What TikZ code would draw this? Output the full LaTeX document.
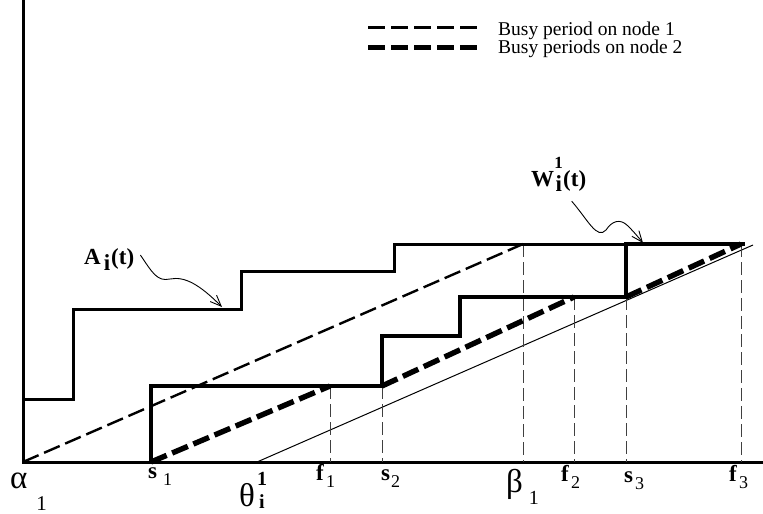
\documentclass[tikz,border=0pt]{standalone}
\usepackage{fontspec}
\setmainfont{Liberation Serif}
\usetikzlibrary{arrows.meta,positioning}
\newcommand{\tlab}[3][2pt]{\textbf{#2}\hspace{#1}\raisebox{-7pt}{\fontsize{18}{18}\selectfont #3}}
\tikzset{
  axisLine/.style={line width=3pt},
  arrCurve/.style={line width=3pt, line join=miter},
  wCurve/.style={line width=4.8pt, line join=miter},
  busyOne/.style={line width=2.4pt, dash pattern=on 17pt off 6pt},
  busyTwo/.style={line width=5.4pt, dash pattern=on 17pt off 6pt},
  dropLine/.style={line width=0.9pt, draw=black!75, dash pattern=on 13pt off 5pt},
  servLine/.style={line width=1pt},
  tickLabel/.style={font=\fontsize{23}{23}\selectfont, inner sep=0pt, anchor=base west},
  greekLabel/.style={font=\fontsize{33}{33}\selectfont, inner sep=0pt, anchor=base west},
  curveLabel/.style={font=\fontsize{23}{23}\selectfont\bfseries, inner sep=0pt, anchor=base west},
  legendText/.style={font=\fontsize{19.5}{19.5}\selectfont, inner sep=0pt, anchor=base west},
  noteArrow/.style={-{Straight Barb[length=11pt,width=9pt]}, line width=0.9pt}
}

\begin{document}
\begin{tikzpicture}[x=1pt,y=-1pt]
  \useasboundingbox (0,0) rectangle (763,514);
  \draw[axisLine] (23,0) -- (23,462) -- (763,462);
  \draw[servLine] (257,462) -- (753,245);
  \draw[dropLine] (330,386) -- (330,462);
  \draw[dropLine] (382,386) -- (382,462);
  \draw[dropLine] (523,244) -- (523,462);
  \draw[dropLine] (574,297) -- (574,462);
  \draw[dropLine] (626,297) -- (626,462);
  \draw[dropLine] (741,244) -- (741,462);
  \draw[busyOne] (23,462) -- (523,244);
  \draw[busyTwo] (151,462) -- (330,386);
  \draw[busyTwo] (382,386) -- (574,297);
  \draw[busyTwo] (626,297) -- (741,244);
  \draw[arrCurve] (23,399) -| (73,309) -| (241,271) -| (394,244) -- (745,244);
  \draw[wCurve] (151,462) |- (382,386) |- (460,336) |- (626,297) |- (745,244);

  \node[tickLabel] (s1) at (148,478) {\tlab[6pt]{s}{1}};
  \node[tickLabel] (f1) at (316,480) {\tlab{f}{1}};
  \node[tickLabel] (s2) at (381,480) {\tlab[1pt]{s}{2}};
  \node[tickLabel] (f2) at (561,481) {\tlab{f}{2}};
  \node[tickLabel] (s3) at (624,482) {\tlab{s}{3}};
  \node[tickLabel] (f3) at (729,481) {\tlab{f}{3}};
  \node[greekLabel] (alpha1) at (10,488) {α\hspace{9pt}\raisebox{-22pt}{\fontsize{21}{21}\selectfont 1}};
  \node[greekLabel] (beta1) at (506,492) {β\hspace{6pt}\raisebox{-12pt}{\fontsize{20}{20}\selectfont 1}};
  \node[greekLabel] (theta1) at (239,506) {θ\hspace{1pt}\rlap{\makebox[12pt]{\raisebox{21pt}{\fontsize{20}{20}\selectfont\bfseries 1}}}\makebox[12pt]{\raisebox{-2pt}{\fontsize{20}{20}\selectfont\bfseries i}}};

  \node[curveLabel] (aLabel) at (84,264) {A\hspace{3pt}\raisebox{-6pt}{i}\hspace{1pt}(t)};
  \node[curveLabel] (wLabel) at (531,186) {W\rlap{\makebox[9pt]{\raisebox{18pt}{\fontsize{17}{17}\selectfont 1}}}\makebox[9pt]{\raisebox{-5pt}{i}}(t)};
  \coordinate (aTip) at (222,307);
  \coordinate (wTip) at (643,243);
  \draw[noteArrow] ([xshift=6pt,yshift=4pt]aLabel.east) .. controls (152,272) and (157,282) .. (170,279)
    .. controls (185,276) and (200,285) .. (aTip);
  \draw[noteArrow] ([xshift=13pt,yshift=-10pt]wLabel.south) .. controls (588,220) and (597,240) .. (606,230)
    .. controls (612,221) and (620,218) .. (628,226) .. controls (634,232) and (639,238) .. (wTip);

  \node[legendText] (legOne) at (498,35) {Busy period on node 1};
  \node[legendText] (legTwo) at (498,53) {Busy periods on node 2};
  \draw[busyOne] ([xshift=-130pt,yshift=3pt]legOne.west) -- ([xshift=-20pt,yshift=3pt]legOne.west);
  \draw[busyTwo] ([xshift=-130pt,yshift=1pt]legTwo.west) -- ([xshift=-20pt,yshift=1pt]legTwo.west);
\end{tikzpicture}
\end{document}
